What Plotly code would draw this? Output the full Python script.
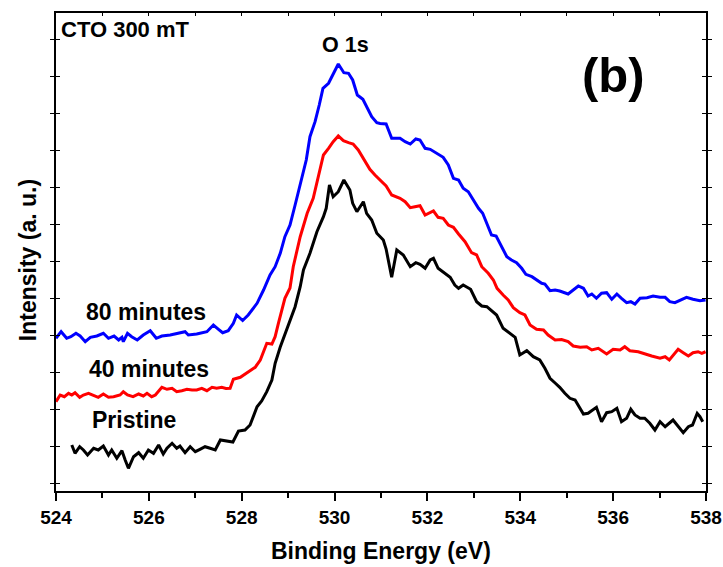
import plotly.graph_objects as go

# Binding energy (eV) and intensity (a.u.)
be_pristine = [524.34, 524.41, 524.51, 524.59, 524.68, 524.81, 524.91, 525.02, 525.13, 525.20,
               525.31, 525.42, 525.49, 525.56, 525.67, 525.78, 525.88, 525.99, 526.10, 526.21,
               526.31, 526.39, 526.50, 526.60, 526.67, 526.78, 526.89, 527.00, 527.10, 527.21,
               527.32, 527.43, 527.54, 527.68, 527.81, 527.93, 528.07, 528.18, 528.33, 528.43,
               528.54, 528.65, 528.72, 528.83, 528.93, 529.04, 529.15, 529.26, 529.33, 529.47,
               529.62, 529.76, 529.82, 529.89, 529.97, 530.08, 530.20, 530.33, 530.39, 530.48,
               530.55, 530.62, 530.69, 530.80, 530.91, 531.05, 531.11, 531.16, 531.23, 531.34,
               531.48, 531.63, 531.75, 531.84, 531.95, 532.06, 532.13, 532.23, 532.38, 532.49,
               532.59, 532.67, 532.77, 532.93, 533.06, 533.17, 533.28, 533.49, 533.63, 533.78,
               533.89, 533.99, 534.14, 534.28, 534.42, 534.53, 534.64, 534.75, 534.85, 534.96,
               535.07, 535.18, 535.27, 535.36, 535.46, 535.54, 535.64, 535.75, 535.86, 535.97,
               536.08, 536.18, 536.29, 536.38, 536.47, 536.58, 536.68, 536.79, 536.90, 537.01,
               537.12, 537.29, 537.40, 537.51, 537.62, 537.71, 537.81, 537.87, 537.93]
int_pristine = [44, 35.7, 42.3, 39, 34, 40.7, 39, 43, 34, 39,
                30.7, 38.3, 29, 20.7, 32.3, 36.3, 30.7, 39, 35.7, 44,
                35, 40.7, 45.7, 40.7, 43, 36.3, 42.3, 37.3, 39.7, 42.3,
                40.7, 39, 49, 48.3, 47, 58, 59, 64, 82.3, 88,
                97.3, 109, 125.7, 142, 155, 168, 182.3, 202.3, 219, 235.7,
                257.3, 272.3, 280.7, 304, 292.3, 297.3, 309, 299, 285.7, 277.3,
                282.3, 287.3, 275.7, 269, 255.7, 249, 240, 229, 211.7, 239,
                234, 222.3, 226.3, 224.7, 220.7, 229, 230.7, 220.7, 215, 211.7,
                204, 200.7, 204, 199.7, 187.3, 183, 182.3, 174, 160.7, 155,
                151.7, 134, 138.3, 132.3, 129, 120.7, 110.7, 106, 101.7, 95.7,
                90.7, 89, 82.3, 75, 75.7, 78.3, 81.7, 67.3, 76.3, 77.3,
                80.7, 67.3, 70.7, 79.7, 74, 70.7, 70.7, 65.7, 59, 67.3,
                62.3, 69, 62.3, 56.3, 62.3, 64, 75.7, 72.3, 67.3]

be_40min = [524.00, 524.09, 524.18, 524.27, 524.34, 524.41, 524.51, 524.59, 524.70, 524.81,
            524.91, 525.02, 525.13, 525.24, 525.38, 525.45, 525.54, 525.66, 525.78, 525.88,
            525.96, 526.06, 526.14, 526.28, 526.39, 526.50, 526.60, 526.71, 526.82, 526.93,
            527.03, 527.14, 527.25, 527.36, 527.46, 527.57, 527.66, 527.75, 527.82, 527.97,
            528.11, 528.29, 528.40, 528.47, 528.54, 528.65, 528.72, 528.79, 528.86, 528.93,
            529.04, 529.11, 529.26, 529.41, 529.54, 529.65, 529.76, 529.87, 529.97, 530.08,
            530.19, 530.30, 530.40, 530.51, 530.62, 530.76, 530.87, 530.98, 531.11, 531.23,
            531.41, 531.52, 531.63, 531.73, 531.84, 531.95, 532.13, 532.23, 532.34, 532.45,
            532.56, 532.67, 532.81, 532.95, 533.06, 533.17, 533.31, 533.42, 533.50, 533.63,
            533.74, 533.85, 533.99, 534.10, 534.21, 534.35, 534.50, 534.60, 534.75, 534.89,
            535.03, 535.14, 535.29, 535.43, 535.54, 535.68, 535.86, 536.00, 536.15, 536.25,
            536.36, 536.54, 536.68, 536.83, 537.01, 537.12, 537.21, 537.29, 537.40, 537.51,
            537.62, 537.72, 537.83, 537.91, 537.99]
int_40min = [87.3, 94, 92.3, 95.7, 94, 96.3, 91.7, 94, 95.7, 94,
             91.7, 95, 91.7, 92.3, 94, 97.3, 94, 92.3, 95, 93,
             95.7, 92.3, 94, 101.7, 99.7, 100.7, 97.3, 98.3, 99.7, 99,
             99, 100.7, 98.3, 101.7, 100.7, 101.7, 100.5, 100.7, 109.7, 111.7,
             115.7, 121.7, 129, 137, 145.7, 145, 152.3, 165.7, 179, 190.7,
             201, 222.3, 252.3, 275.7, 290.7, 312.3, 334, 340.7, 347.3, 353,
             348.3, 346.3, 345, 339, 330.7, 319.7, 314, 309, 303, 294,
             290.7, 287.3, 281.3, 282.3, 283.3, 274, 278, 271.7, 270.7, 264,
             261.7, 255, 247.3, 236.3, 234, 222.3, 215.7, 209, 200.7, 194,
             189, 181.3, 176.3, 174, 164, 159.7, 159, 154, 149, 149.5,
             147.3, 143, 141.7, 142.3, 139, 140.7, 135, 139.7, 139, 142.3,
             138.3, 137.3, 135, 133, 130.7, 132.3, 129, 134, 139.7, 136.3,
             133, 136.3, 137.3, 135.7, 137.3]

be_80min = [524.00, 524.11, 524.23, 524.32, 524.43, 524.52, 524.63, 524.74, 524.88, 525.02,
            525.13, 525.25, 525.35, 525.42, 525.45, 525.54, 525.63, 525.75, 525.88, 526.03,
            526.16, 526.28, 526.46, 526.60, 526.78, 526.85, 527.03, 527.25, 527.39, 527.50,
            527.59, 527.71, 527.82, 527.89, 528.02, 528.14, 528.33, 528.47, 528.61, 528.72,
            528.83, 528.93, 529.04, 529.15, 529.26, 529.33, 529.39, 529.47, 529.58, 529.67,
            529.75, 529.87, 529.97, 530.08, 530.20, 530.30, 530.39, 530.49, 530.61, 530.69,
            530.80, 530.91, 530.98, 531.11, 531.23, 531.41, 531.52, 531.63, 531.75, 531.84,
            531.95, 532.06, 532.20, 532.34, 532.45, 532.56, 532.67, 532.77, 532.88, 532.99,
            533.10, 533.19, 533.29, 533.38, 533.48, 533.58, 533.71, 533.81, 533.92, 534.03,
            534.12, 534.25, 534.35, 534.46, 534.53, 534.64, 534.75, 534.85, 535.03, 535.14,
            535.25, 535.36, 535.46, 535.54, 535.64, 535.75, 535.86, 535.97, 536.08, 536.18,
            536.29, 536.38, 536.47, 536.58, 536.73, 536.86, 537.01, 537.12, 537.22, 537.33,
            537.44, 537.58, 537.72, 537.87, 537.99]
int_80min = [150.7, 157.3, 150.7, 152.3, 155.7, 153, 147.3, 151.7, 153, 155.7,
             150.7, 153, 149, 151.7, 147.3, 155.7, 152.3, 149, 154, 158.3,
             150.7, 153, 154, 155.7, 157.3, 154, 155, 157.3, 164, 159.7,
             156.3, 158.3, 165.7, 174, 168.5, 174, 185.7, 199, 214, 222.3,
             235.7, 252.3, 264, 284, 305.7, 317.3, 329, 352.3, 367.3, 384,
             400.7, 405.7, 415.7, 425, 416.3, 415.7, 409, 394, 389.7, 382.3,
             372.3, 366.3, 365.5, 365, 350.7, 350.7, 347.3, 345, 350, 349,
             340.7, 339.7, 335.7, 331.7, 324, 310.7, 309, 300.7, 297.3, 289,
             280.7, 275.7, 264, 254, 253, 244, 232.3, 229, 226.3, 220.7,
             214.7, 212.3, 209, 205.7, 205, 198.3, 199, 198, 195, 199,
             203, 200.7, 193, 195, 190.7, 195.7, 196.3, 189.7, 195, 190.7,
             186.3, 187.3, 185, 190.7, 191.3, 193, 191.7, 191.7, 187.3, 186.3,
             189, 191.7, 189.7, 188.3, 189]

series_names = ["Pristine", "40 minutes", "80 minutes"]
series_colors = ["#000000", "#FF0000", "#0000FF"]

FONT = "Liberation Sans, Arial, sans-serif"

fig = go.Figure()
for name, xs, ys, col in zip(series_names,
                             [be_pristine, be_40min, be_80min],
                             [int_pristine, int_40min, int_80min],
                             series_colors):
    fig.add_trace(go.Scatter(x=xs, y=ys, mode="lines", name=name,
                             line=dict(color=col, width=3), showlegend=False))

# invisible trace to drive the top mirrored axis
fig.add_trace(go.Scatter(x=[524, 538], y=[None, None], xaxis="x2", showlegend=False,
                         hoverinfo="skip"))

fig.update_layout(
    width=723, height=567,
    margin=dict(l=56, r=17, t=13, b=76, autoexpand=False),
    paper_bgcolor="white", plot_bgcolor="white",
    font=dict(family=FONT, color="black"),
    xaxis=dict(range=[524, 538], dtick=2, tick0=524, automargin=False,
               showline=True, linecolor="black", linewidth=1.5, mirror=True,
               ticks="outside", ticklen=8, tickwidth=1.5, tickcolor="black",
               minor=dict(dtick=1, ticks="outside", ticklen=5, tickwidth=1.5, tickcolor="black"),
               showgrid=False, zeroline=False,
               tickfont=dict(size=19, family=FONT, weight="bold")),
    xaxis2=dict(range=[524, 538], overlaying="x", side="top", dtick=1, tick0=524,
                automargin=False,
                ticks="inside", ticklen=3, tickwidth=1, tickcolor="black",
                showticklabels=False, showgrid=False, zeroline=False, showline=False),
    yaxis=dict(range=[-2, 476], tick0=43, dtick=37, automargin=False,
               showline=True, linecolor="black", linewidth=1.5, mirror="allticks",
               ticks="inside", ticklen=4, tickwidth=1, tickcolor="black",
               showticklabels=False, showgrid=False, zeroline=False),
)

annotations = [
    dict(text="Binding Energy (eV)", xref="paper", yref="paper", x=0.5, y=-0.126,
         font=dict(size=23, weight="bold")),
    dict(text="Intensity (a. u.)", xref="paper", yref="paper", x=-0.043, y=0.483,
         textangle=-90, font=dict(size=23, weight="bold")),
    dict(text="CTO 300 mT", xref="x", yref="y", x=524.07, y=460, xanchor="left",
         font=dict(size=22, weight="bold")),
    dict(text="O 1s", xref="x", yref="y", x=530.23, y=444, font=dict(size=21.5, weight="bold")),
    dict(text="(b)", xref="x", yref="y", x=536.0, y=414, font=dict(size=49, weight="bold")),
    dict(text="80 minutes", xref="x", yref="y", x=525.94, y=177, font=dict(size=23, weight="bold")),
    dict(text="40 minutes", xref="x", yref="y", x=526.01, y=120, font=dict(size=23, weight="bold")),
    dict(text="Pristine", xref="x", yref="y", x=525.69, y=69, font=dict(size=23, weight="bold")),
]
for a in annotations:
    a.setdefault("showarrow", False)
    a.setdefault("xanchor", "center")
    a.setdefault("yanchor", "middle")
    a["font"]["family"] = FONT
    a["font"]["color"] = "black"
fig.update_layout(annotations=annotations)

fig.write_html("out.html")
